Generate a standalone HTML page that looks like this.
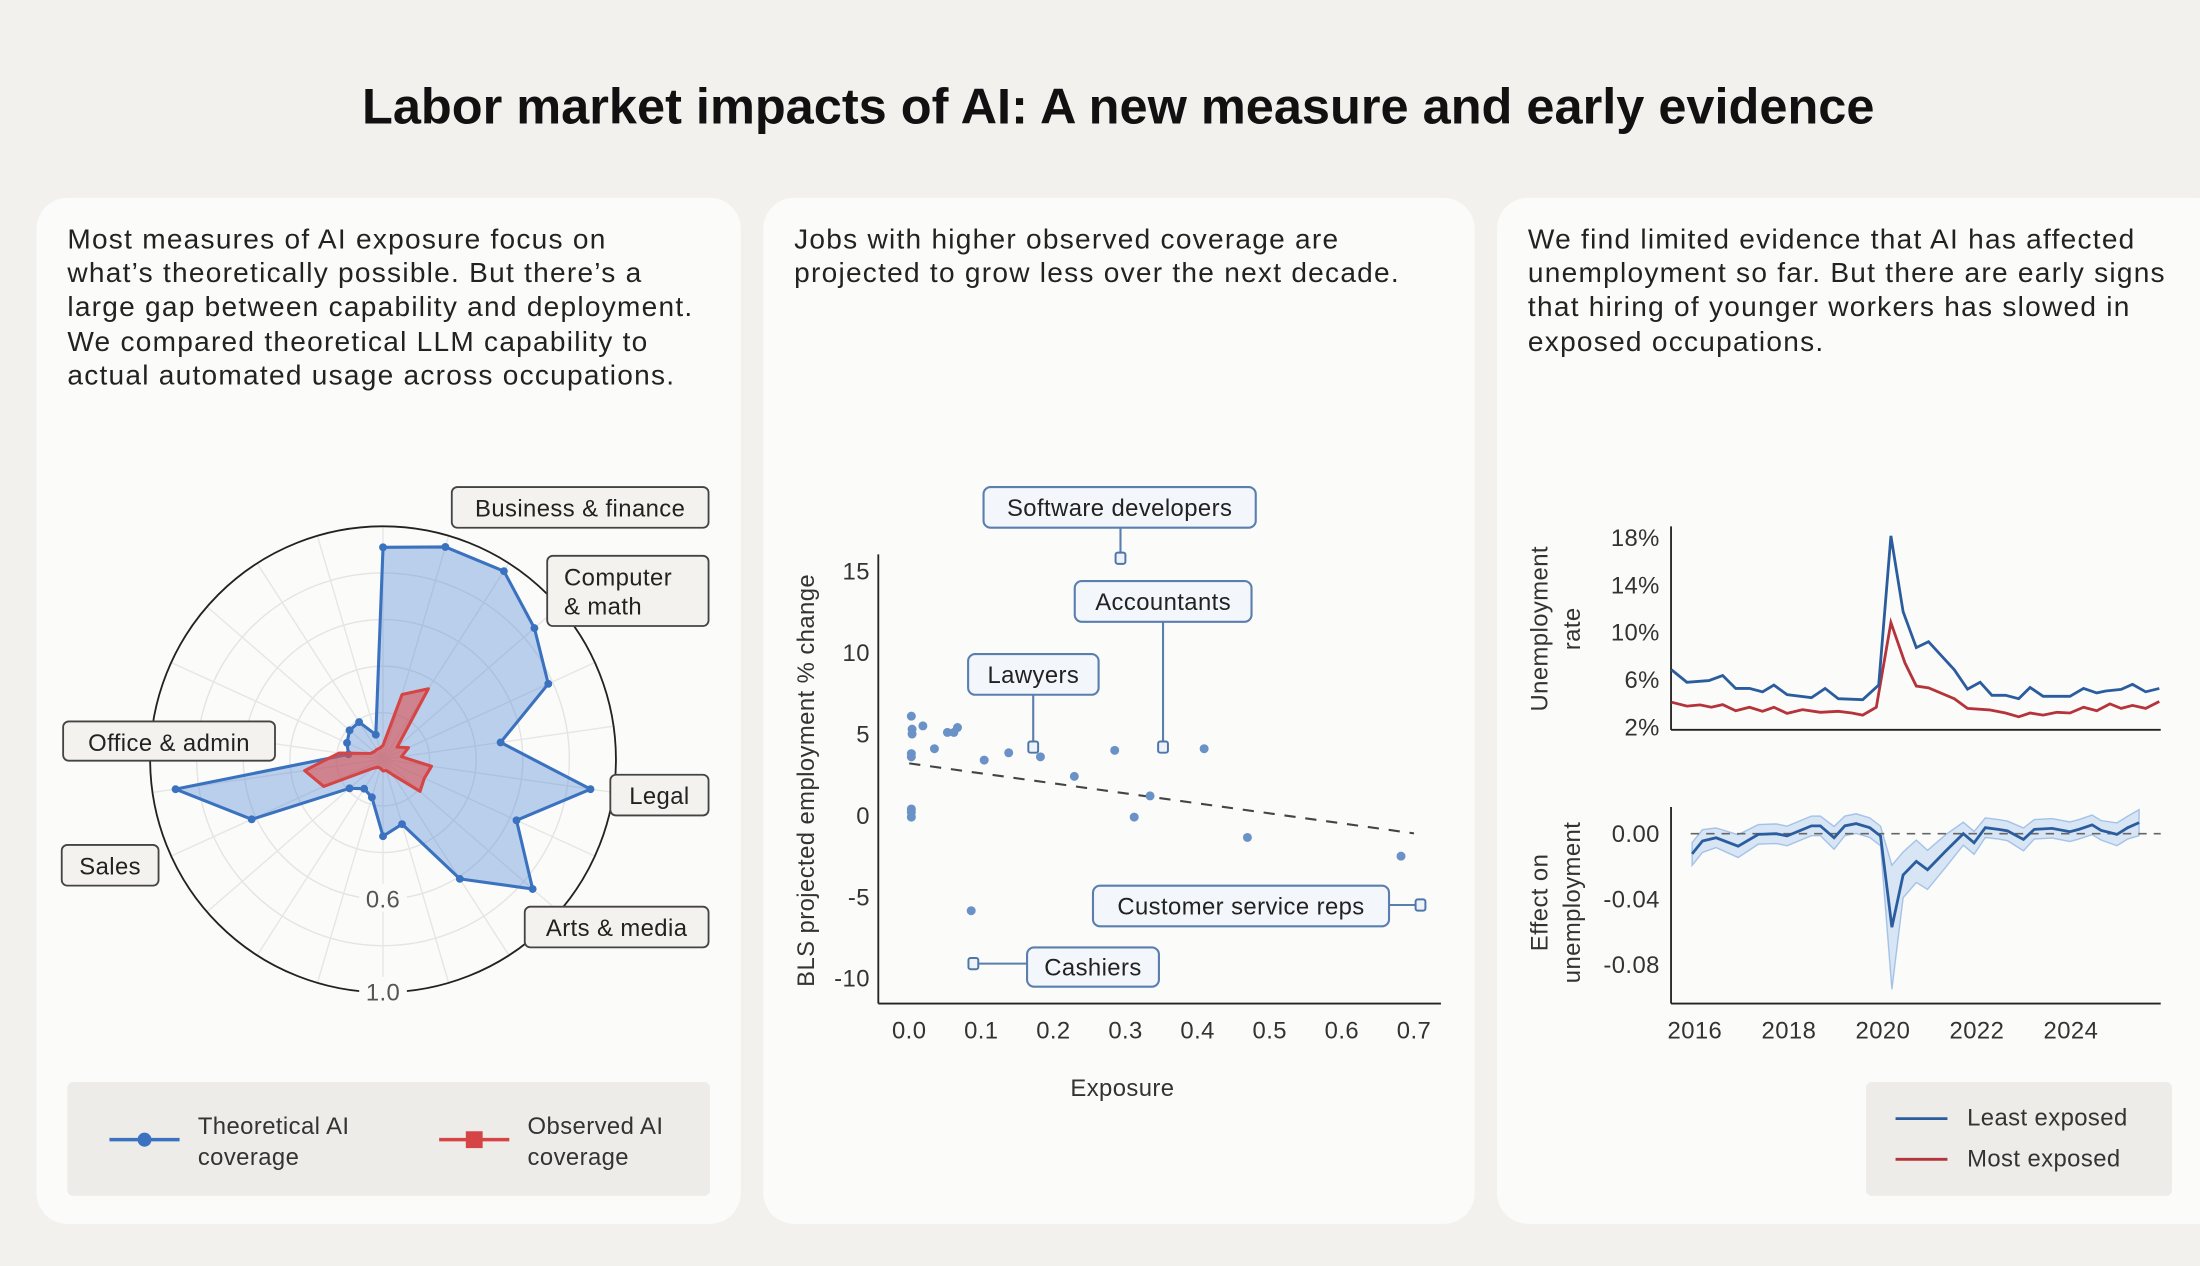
<!DOCTYPE html>
<html><head><meta charset="utf-8"><style>
html,body{margin:0;padding:0;background:#f3f1ee;}
svg{display:block;font-family:"Liberation Sans",sans-serif;}
.para text{letter-spacing:0.9px;}
.lab text{letter-spacing:0.3px;}
</style></head><body>
<svg id="root" width="2200" height="1266" viewBox="0 0 1568 902" preserveAspectRatio="none">
<rect x="0" y="0" width="1568" height="902" fill="#f3f1ee"/>
<text x="797" y="88" text-anchor="middle" font-size="36" font-weight="bold" fill="#111">Labor market impacts of AI: A new measure and early evidence</text>
<rect x="26" y="141" width="502" height="731" rx="22" fill="#fbfbfa"/>
<rect x="544" y="141" width="507" height="731" rx="22" fill="#fbfbfa"/>
<rect x="1067" y="141" width="520" height="731" rx="22" fill="#fbfbfa"/>
<g class="para" font-size="20" fill="#222">
<text x="48" y="177">Most measures of AI exposure focus on</text>
<text x="48" y="201">what’s theoretically possible. But there’s a</text>
<text x="48" y="225">large gap between capability and deployment.</text>
<text x="48" y="250">We compared theoretical LLM capability to</text>
<text x="48" y="274">actual automated usage across occupations.</text>
</g>
<g class="para" font-size="20" fill="#222">
<text x="566" y="177">Jobs with higher observed coverage are</text>
<text x="566" y="201">projected to grow less over the next decade.</text>
</g>
<g class="para" font-size="20" fill="#222">
<text x="1089" y="177">We find limited evidence that AI has affected</text>
<text x="1089" y="201">unemployment so far. But there are early signs</text>
<text x="1089" y="225">that hiring of younger workers has slowed in</text>
<text x="1089" y="250">exposed occupations.</text>
</g>
<g id="radar" class="lab"></g>
<g id="scatter" class="lab"></g>
<g id="lines" class="lab"></g>
</svg>
<script>
// ---------- Radar data ----------
const radarTheoretical = [0.91,0.95,0.96,0.86,0.78,0.51,0.90,0.63,0.85,0.61,0.29,0.33,0.17,0.15,0.19,0.62,0.90,0.15,0.17,0.19,0.19,0.11];
const radarObserved = [0.06,0.29,0.36,0.08,0.12,0.08,0.21,0.195,0.21,0.08,0.05,0.05,0.04,0.04,0.06,0.28,0.34,0.19,0.06,0.05,0.05,0.05];
const radarTickLabels = ["0.6","1.0"];
const radarTickValues = [0.6,1.0];
const radarCategories = ["Business & finance","Computer & math","Legal","Arts & media","Sales","Office & admin"];
// ---------- Scatter data ----------
const scatterX = [0.003,0.004,0.004,0.019,0.003,0.003,0.035,0.053,0.062,0.067,0.104,0.138,0.182,0.229,0.285,0.409,0.334,0.312,0.469,0.682,0.086,0.003,0.003,0.003];
const scatterY = [6.1,5.3,5.0,5.5,3.8,3.6,4.1,5.1,5.1,5.4,3.4,3.85,3.6,2.4,4.0,4.1,1.2,-0.1,-1.35,-2.5,-5.85,0.4,0.2,-0.1];
const highlightNames = ["Software developers","Accountants","Lawyers","Customer service reps","Cashiers"];
const highlightX = [0.293,0.352,0.172,0.709,0.089];
const highlightY = [15.8,4.2,4.2,-5.5,-9.1];
const trendX = [0,0.70];
const trendY = [3.2,-1.1];
const scatterXTicks = [0,0.1,0.2,0.3,0.4,0.5,0.6,0.7];
const scatterXTickLabels = ["0.0","0.1","0.2","0.3","0.4","0.5","0.6","0.7"];
const scatterYTicks = [15,10,5,0,-5,-10];
// ---------- Unemployment data ----------
const leastYears = [2015.50,2015.83,2016.30,2016.59,2016.87,2017.16,2017.44,2017.68,2017.96,2018.48,2018.77,2019.05,2019.57,2019.91,2020.17,2020.43,2020.71,2020.97,2021.52,2021.80,2022.07,2022.32,2022.61,2022.89,2023.13,2023.41,2023.98,2024.27,2024.55,2024.74,2025.07,2025.31,2025.59,2025.88];
const leastRate = [6.84,5.78,5.92,6.35,5.26,5.26,4.97,5.54,4.74,4.48,5.26,4.39,4.31,5.54,18.14,11.74,8.71,9.20,6.84,5.20,5.78,4.68,4.68,4.39,5.34,4.59,4.59,5.26,4.88,5.05,5.17,5.60,4.97,5.26];
const mostYears = [2015.50,2015.83,2016.11,2016.35,2016.59,2016.87,2017.16,2017.44,2017.68,2017.96,2018.29,2018.67,2019.05,2019.34,2019.57,2019.86,2020.17,2020.47,2020.71,2020.97,2021.52,2021.80,2022.27,2022.61,2022.89,2023.13,2023.41,2023.70,2023.98,2024.27,2024.55,2024.83,2025.07,2025.31,2025.59,2025.88];
const mostRate = [4.10,3.76,3.87,3.67,3.90,3.38,3.67,3.33,3.67,3.15,3.47,3.24,3.33,3.18,3.01,3.67,10.82,7.42,5.46,5.31,4.39,3.58,3.44,3.18,2.86,3.18,3.01,3.24,3.18,3.67,3.38,3.96,3.58,3.82,3.58,4.16];
const rateTicks = [18,14,10,6,2];
const effectYears = [2015.94,2016.16,2016.45,2016.92,2017.35,2017.73,2017.96,2018.48,2018.67,2018.96,2019.19,2019.43,2019.72,2019.95,2020.19,2020.43,2020.71,2020.95,2021.33,2021.71,2021.94,2022.18,2022.46,2022.65,2022.99,2023.22,2023.60,2023.98,2024.17,2024.45,2024.64,2024.98,2025.21,2025.45];
const effectValues = [-0.0124,-0.0045,-0.0025,-0.0076,-0.0004,0,-0.0014,0.0048,0.0048,-0.0025,0.0048,0.0062,0.0037,-0.0014,-0.0572,-0.0252,-0.0169,-0.0221,-0.0107,0,-0.0056,0.0037,0.0027,0.0017,-0.0035,0.0027,0.0033,0.0012,0.0027,0.0054,0.0021,-0.0004,0.0037,0.0068];
const effectCI = [0.007,0.007,0.006,0.007,0.006,0.006,0.006,0.006,0.006,0.007,0.006,0.006,0.006,0.006,0.038,0.014,0.013,0.012,0.010,0.007,0.007,0.006,0.006,0.006,0.007,0.006,0.006,0.006,0.006,0.006,0.006,0.007,0.007,0.008];
const effectTicks = [0,-0.04,-0.08];
const effectTickLabels = ["0.00","-0.04","-0.08"];
const yearTicks = [2016,2018,2020,2022,2024];

const NS = "http://www.w3.org/2000/svg";
function mk(parent, tag, attrs, txt){
  const e = document.createElementNS(NS, tag);
  for (const k in attrs) e.setAttribute(k, attrs[k]);
  if (txt !== undefined) e.textContent = txt;
  parent.appendChild(e);
  return e;
}
let el;

// ===== RADAR =====
const R = document.getElementById('radar');
const cx = 273, cy = 541, rad = 166, N = radarTheoretical.length;
function rp(i, v){ const a = i*2*Math.PI/N; return [cx + Math.sin(a)*v*rad, cy - Math.cos(a)*v*rad]; }
[0.2,0.4,0.6,0.8].forEach(v=>{
  el = mk(R,'circle',{cx:cx,cy:cy,r:v*rad,fill:'none',stroke:'#e4e4e4','stroke-width':1});
  
  
});
for (let i=0;i<N;i++){
  const p = rp(i,1);
  el = mk(R,'line',{x1:cx,y1:cy,x2:p[0],y2:p[1],stroke:'#e6e6e6','stroke-width':1});
  
  
}
el = mk(R,'circle',{cx:cx,cy:cy,r:rad,fill:'none',stroke:'#222','stroke-width':1.3});


function poly(vals, stroke, fill, name){
  const pts = vals.map((v,i)=>rp(i,v).join(',')).join(' ');
  el = mk(R,'polygon',{points:pts,fill:fill,stroke:stroke,'stroke-width':2.2,'stroke-linejoin':'round'});
  
  
}
poly(radarTheoretical,'#3a72c0','rgba(96,146,214,0.42)','theoretical-coverage-area');
radarTheoretical.forEach((v,i)=>{
  const p = rp(i,v);
  el = mk(R,'circle',{cx:p[0],cy:p[1],r:2.8,fill:'#3a72c0'});
  
  
});
poly(radarObserved,'#d64545','rgba(222,80,80,0.6)','observed-coverage-area');
radarTickValues.forEach((v,i)=>{
  const y = cy + v*rad;
  el = mk(R,'rect',{x:cx-17,y:y-11,width:34,height:20,fill:'#fbfbfa'});
  
  
  el = mk(R,'text',{x:cx,y:y+6,'text-anchor':'middle','font-size':17,fill:'#555'},radarTickLabels[i]);
  
  
});
const rlab = [[322,347,183,29,["Business & finance"]],[390,396,115,50,["Computer","& math"]],[435,552,70,29,["Legal"]],[374,646,131,29,["Arts & media"]],[44,602,69,29,["Sales"]],[45,514,151,28,["Office & admin"]]];
rlab.forEach((b,i)=>{
  el = mk(R,'rect',{x:b[0],y:b[1],width:b[2],height:b[3],rx:4,fill:'#f4f2ee',stroke:'#444','stroke-width':1.3});
  
  
  b[4].forEach((t,j)=>{
    el = mk(R,'text',{x:b[4].length>1?b[0]+12:b[0]+b[2]/2,y:b[1]+21+j*21,'text-anchor':b[4].length>1?'start':'middle','font-size':17,fill:'#222'},t);
    
    
  });
});
// legend
el = mk(R,'rect',{x:48,y:771,width:458,height:81,rx:4,fill:'#eeece9'});


el = mk(R,'line',{x1:78,y1:812,x2:128,y2:812,stroke:'#3a72c0','stroke-width':2.5});


el = mk(R,'circle',{cx:103,cy:812,r:5,fill:'#3a72c0'});


el = mk(R,'text',{x:141,y:808,'font-size':17,fill:'#333'},'Theoretical AI');


el = mk(R,'text',{x:141,y:830,'font-size':17,fill:'#333'},'coverage');


el = mk(R,'line',{x1:313,y1:812,x2:363,y2:812,stroke:'#d64545','stroke-width':2.5});


el = mk(R,'rect',{x:332,y:806,width:12,height:12,fill:'#d64545'});


el = mk(R,'text',{x:376,y:808,'font-size':17,fill:'#333'},'Observed AI');


el = mk(R,'text',{x:376,y:830,'font-size':17,fill:'#333'},'coverage');



// ===== SCATTER =====
const S = document.getElementById('scatter');
const sx = v => 648 + v*514;
const sy = v => 581 - v*11.6;
el = mk(S,'line',{x1:626,y1:395,x2:626,y2:715,stroke:'#222','stroke-width':1.3});


el = mk(S,'line',{x1:626,y1:715,x2:1027,y2:715,stroke:'#222','stroke-width':1.3});


scatterYTicks.forEach(v=>{
  el = mk(S,'text',{x:620,y:sy(v)+6,'text-anchor':'end','font-size':17,fill:'#333'},String(v));
  
  
});
scatterXTicks.forEach((v,i)=>{
  el = mk(S,'text',{x:sx(v),y:740,'text-anchor':'middle','font-size':17,fill:'#333'},scatterXTickLabels[i]);
  
  
});
el = mk(S,'text',{x:800,y:781,'text-anchor':'middle','font-size':17,fill:'#333'},'Exposure');


el = mk(S,'text',{x:0,y:0,'text-anchor':'middle','font-size':17,fill:'#333',transform:'translate(580,556) rotate(-90)'},'BLS projected employment % change');


el = mk(S,'line',{x1:sx(trendX[0]),y1:sy(trendY[0]),x2:sx(trendX[1]),y2:sy(trendY[1]),stroke:'#444','stroke-width':1.5,'stroke-dasharray':'8,7'});


scatterX.forEach((x,i)=>{
  el = mk(S,'circle',{cx:sx(x),cy:sy(scatterY[i]),r:3.2,fill:'#6a92c6'});
  
  
});
const hb = [[701,347,194,29,'v'],[766,414,126,29,'v'],[690,466,93,29,'v'],[779,631,211,29,'h'],[732,675,94,28,'h']];
highlightNames.forEach((n,i)=>{
  const px = sx(highlightX[i]), py = sy(highlightY[i]); const b = hb[i];
  let x1,y1;
  if (b[4]==='v'){ x1 = px; y1 = b[1]+b[3]; }
  else { x1 = px > b[0] ? b[0]+b[2] : b[0]; y1 = py; }
  el = mk(S,'line',{x1:x1,y1:y1,x2:px,y2:py,stroke:'#5a7fae','stroke-width':1.5});
  
  
  el = mk(S,'rect',{x:px-3.5,y:py-4,width:7,height:8,rx:1.5,fill:'#eef3fa',stroke:'#4d76ab','stroke-width':1.4});
  
  
  el = mk(S,'rect',{x:b[0],y:b[1],width:b[2],height:b[3],rx:5,fill:'#f3f6fa',stroke:'#5a7fae','stroke-width':1.5});
  
  
  el = mk(S,'text',{x:b[0]+b[2]/2,y:b[1]+b[3]/2+6,'text-anchor':'middle','font-size':17,fill:'#222'},n);
  
  
});

// ===== LINE CHARTS =====
const L = document.getElementById('lines');
const lx = yr => 1208 + (yr-2016)*33.5;
const ly = v => 518 - (v-2)*8.44;
const ey = v => 594 - v*1165;
[[1191,375,1191,520],[1191,520,1540,520],[1191,575,1191,715],[1191,715,1540,715]].forEach((a,i)=>{
  el = mk(L,'line',{x1:a[0],y1:a[1],x2:a[2],y2:a[3],stroke:'#222','stroke-width':1.3});
  
  
});
rateTicks.forEach(v=>{
  el = mk(L,'text',{x:1183,y:ly(v)+6,'text-anchor':'end','font-size':17,fill:'#333'},v+'%');
  
  
});
effectTicks.forEach((v,i)=>{
  el = mk(L,'text',{x:1183,y:ey(v)+6,'text-anchor':'end','font-size':17,fill:'#333'},effectTickLabels[i]);
  
  
});
yearTicks.forEach(y=>{
  el = mk(L,'text',{x:lx(y),y:740,'text-anchor':'middle','font-size':17,fill:'#333'},String(y));
  
  
});
[['Unemployment',1103,448],['rate',1126,448],['Effect on',1103,643],['unemployment',1126,643]].forEach(t=>{
  el = mk(L,'text',{x:0,y:0,'text-anchor':'middle','font-size':17,fill:'#333',transform:'translate('+t[1]+','+t[2]+') rotate(-90)'},t[0]);
  
  
});
function path(xs, ys, fx, fy){ return xs.map((x,i)=>(i?'L':'M')+fx(x).toFixed(1)+','+fy(ys[i]).toFixed(1)).join(''); }
el = mk(L,'path',{d:path(mostYears,mostRate,lx,ly),fill:'none',stroke:'#b5333a','stroke-width':2});


el = mk(L,'path',{d:path(leastYears,leastRate,lx,ly),fill:'none',stroke:'#2b5d9e','stroke-width':2});


const up = effectYears.map((y,i)=>lx(y).toFixed(1)+','+ey(effectValues[i]+effectCI[i]).toFixed(1));
const lo = effectYears.map((y,i)=>lx(y).toFixed(1)+','+ey(effectValues[i]-effectCI[i]).toFixed(1)).reverse();
el = mk(L,'polygon',{points:up.concat(lo).join(' '),fill:'rgba(150,190,235,0.35)',stroke:'rgba(120,165,220,0.6)','stroke-width':1});


el = mk(L,'line',{x1:1205,y1:ey(0),x2:1540,y2:ey(0),stroke:'#666','stroke-width':1.2,'stroke-dasharray':'6,5'});


el = mk(L,'path',{d:path(effectYears,effectValues,lx,ey),fill:'none',stroke:'#2b5d9e','stroke-width':2});


el = mk(L,'rect',{x:1330,y:771,width:218,height:81,rx:4,fill:'#eeece9'});


el = mk(L,'line',{x1:1351,y1:797,x2:1388,y2:797,stroke:'#2b5d9e','stroke-width':2});


el = mk(L,'text',{x:1402,y:802,'font-size':17,fill:'#333'},'Least exposed');


el = mk(L,'line',{x1:1351,y1:826,x2:1388,y2:826,stroke:'#b5333a','stroke-width':2});


el = mk(L,'text',{x:1402,y:831,'font-size':17,fill:'#333'},'Most exposed');


</script>
</body></html>
